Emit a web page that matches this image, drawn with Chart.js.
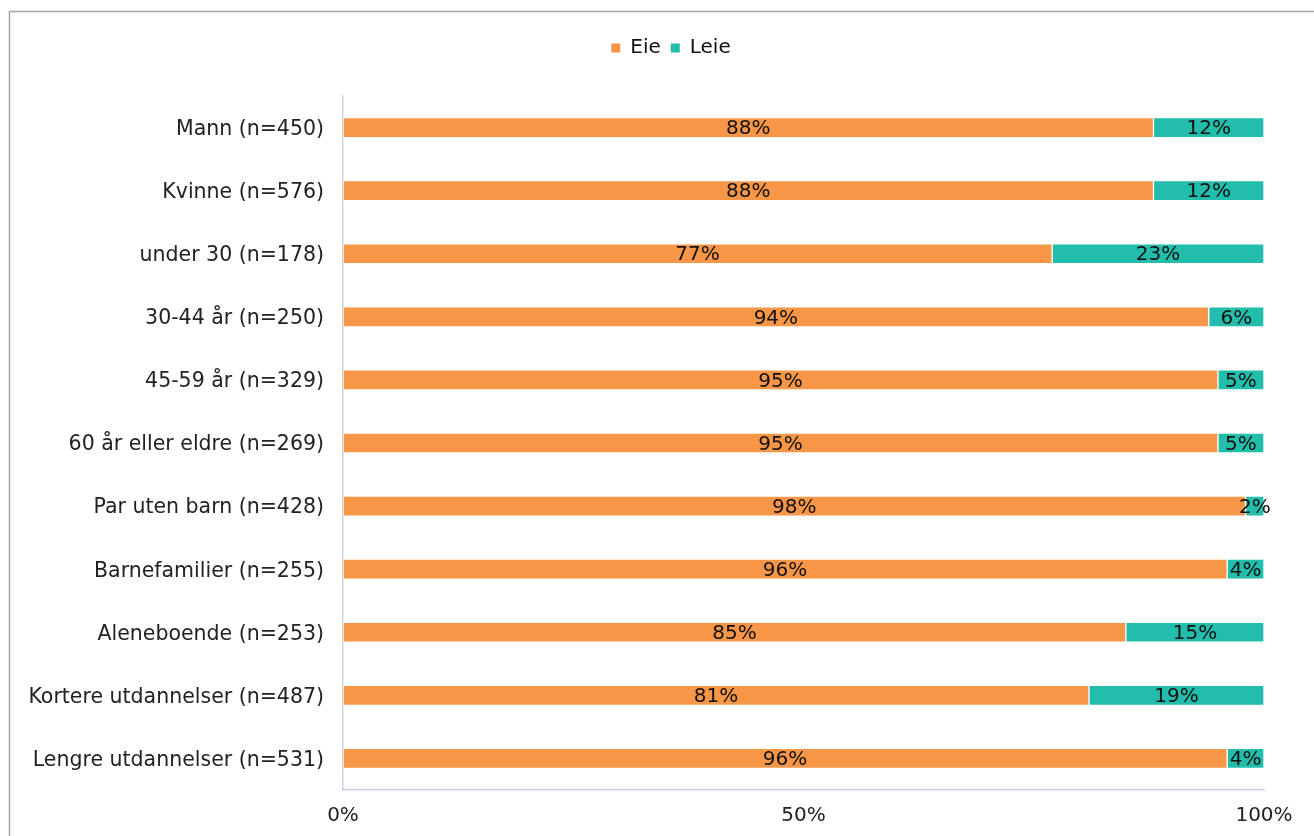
<!DOCTYPE html>
<html>
<head>
<meta charset="utf-8">
<script src="https://cdn.jsdelivr.net/npm/chart.js@4.4.1/dist/chart.umd.min.js"></script>
<style>
  html, body { margin: 0; padding: 0; background: #fff; }
  #wrap { width: 1314px; height: 836px; position: relative; }
</style>
</head>
<body>
<div id="wrap"><canvas id="c" width="1314" height="836"></canvas></div>
<script>
const categories = [
  'Mann (n=450)',
  'Kvinne (n=576)',
  'under 30 (n=178)',
  '30-44 år (n=250)',
  '45-59 år (n=329)',
  '60 år eller eldre (n=269)',
  'Par uten barn (n=428)',
  'Barnefamilier (n=255)',
  'Aleneboende (n=253)',
  'Kortere utdannelser (n=487)',
  'Lengre utdannelser (n=531)'
];
const eie  = [88, 88, 77, 94, 95, 95, 98, 96, 85, 81, 96];
const leie = [12, 12, 23, 6, 5, 5, 2, 4, 15, 19, 4];
const seriesNames = ['Eie', 'Leie'];
const xTicks = [0, 50, 100];

const FONT = 'DejaVu Sans';
const ORANGE = '#F79646';
const TEAL = '#23BDAC';
const AXIS = '#C6D3E5';

// white page with the thin grey frame
const framePlugin = {
  id: 'frame',
  beforeDraw(chart) {
    const ctx = chart.ctx;
    ctx.save();
    ctx.fillStyle = '#fff';
    ctx.fillRect(0, 0, chart.width, chart.height);
    ctx.strokeStyle = '#A3A3A3';
    ctx.lineWidth = 1.5;
    ctx.strokeRect(9.5, 11.5, 2000, 2000);
    ctx.restore();
  }
};

// percentage label centred in every segment
const valueLabels = {
  id: 'valueLabels',
  afterDatasetsDraw(chart) {
    const ctx = chart.ctx;
    ctx.save();
    ctx.font = '20px "' + FONT + '"';
    ctx.fillStyle = '#111';
    ctx.textAlign = 'center';
    ctx.textBaseline = 'middle';
    chart.data.datasets.forEach((ds, di) => {
      chart.getDatasetMeta(di).data.forEach((bar, i) => {
        const v = ds.data[i];
        const cx = (bar.x + bar.base) / 2;
        ctx.fillText(v + '%', cx, bar.y + 1.5);
      });
    });
    ctx.restore();
  }
};

const barStyle = { borderColor: '#fff', borderWidth: 1, barThickness: 20, borderSkipped: false, xAxisID: 'x', yAxisID: 'y' };

new Chart(document.getElementById('c'), {
  type: 'bar',
  data: {
    labels: categories,
    datasets: [
      Object.assign({ label: seriesNames[0], data: eie, backgroundColor: ORANGE }, barStyle),
      Object.assign({ label: seriesNames[1], data: leie, backgroundColor: TEAL }, barStyle)
    ]
  },
  options: {
    indexAxis: 'y',
    responsive: false,
    animation: false,
    // the legend row is centred a little right of the page middle
    layout: { padding: { top: 28, right: -28, bottom: 0, left: 0 } },
    plugins: {
      legend: {
        position: 'top',
        labels: {
          font: { family: FONT, size: 20 },
          color: '#111',
          boxWidth: 9,
          boxHeight: 9,
          padding: 10,
          generateLabels(chart) {
            return chart.data.datasets.map((ds, i) => ({
              text: ds.label, fillStyle: ds.backgroundColor, strokeStyle: ds.backgroundColor,
              lineWidth: 0, datasetIndex: i, fontColor: '#111'
            }));
          }
        }
      },
      tooltip: { enabled: false }
    },
    scales: {
      x: {
        stacked: true,
        min: 0,
        max: 100,
        afterBuildTicks(s) { s.ticks = xTicks.map(v => ({ value: v })); },
        afterFit(s) { s.height = 46; },
        grid: { display: false, drawTicks: false },
        border: { display: true, color: AXIS, width: 1.5 },
        ticks: {
          padding: 14,
          color: '#222',
          font: { family: FONT, size: 20 },
          callback: v => v + '%',
          maxRotation: 0
        }
      },
      y: {
        stacked: true,
        afterFit(s) { s.width = 343; },
        grid: { display: false, drawTicks: false },
        border: { display: true, color: AXIS, width: 1.5 },
        ticks: {
          padding: 19,
          labelOffset: 2,
          color: '#222',
          font: { family: FONT, size: 20.5 },
          autoSkip: false
        }
      },
      xTop: {
        type: 'linear',
        position: 'top',
        min: 0, max: 1,
        afterFit(s) { s.height = 28; },
        grid: { display: false, drawTicks: false },
        border: { display: false },
        ticks: { display: false }
      },
      yRight: {
        type: 'linear',
        position: 'right',
        min: 0, max: 1,
        afterFit(s) { s.width = 78; },
        grid: { display: false, drawTicks: false },
        border: { display: false },
        ticks: { display: false }
      }
    }
  },
  plugins: [framePlugin, valueLabels]
});
</script>
</body>
</html>
